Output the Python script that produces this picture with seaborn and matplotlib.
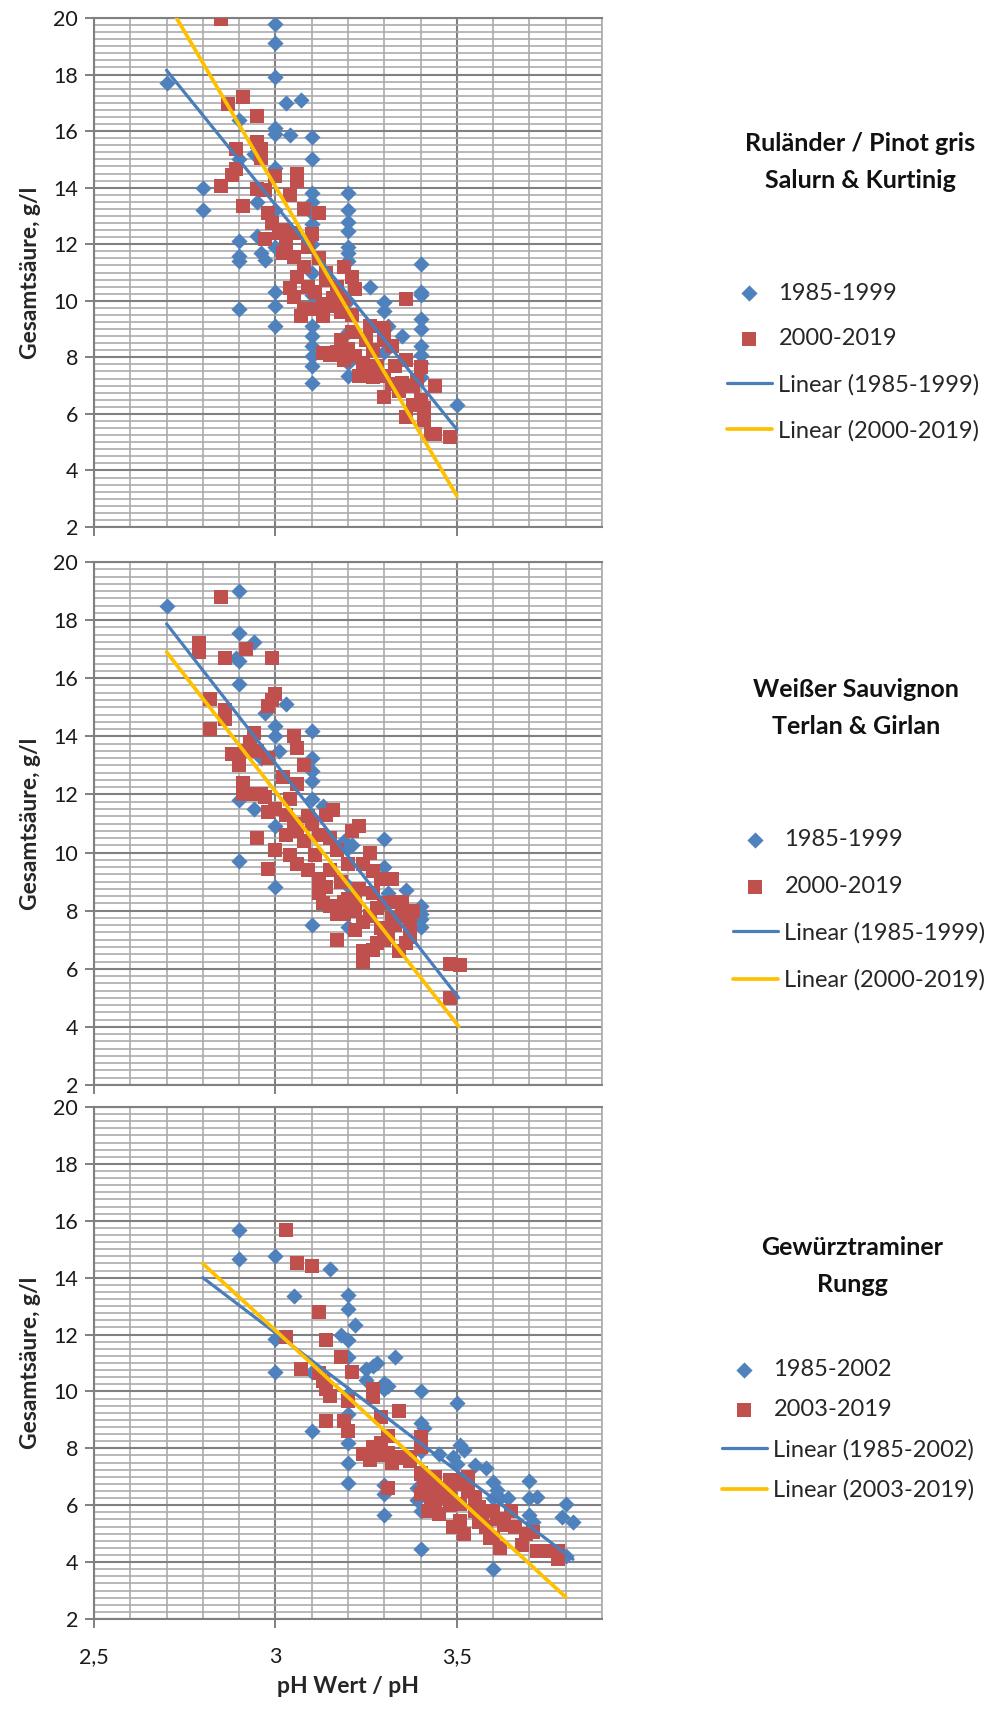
import numpy as np
import pandas as pd
import matplotlib
matplotlib.use("Agg")
import matplotlib.pyplot as plt
from matplotlib.ticker import MultipleLocator, FuncFormatter
import seaborn as sns

# ---------------- data ----------------
# Ruländer / Pinot gris, Salurn & Kurtinig
pg_old_ph = [2.70, 2.80, 2.80, 2.90, 2.90, 2.90, 2.90, 2.90, 2.90, 2.94, 2.95, 2.95, 2.96, 2.97,
             3.00, 3.00, 3.00, 3.00, 3.00, 3.00, 3.00, 3.00, 3.00, 3.00, 3.00, 3.03, 3.07, 3.04,
             3.10, 3.10, 3.10, 3.10, 3.10, 3.10, 3.10, 3.10, 3.10, 3.10, 3.10, 3.10, 3.10, 3.10, 3.10,
             3.20, 3.20, 3.20, 3.20, 3.20, 3.20, 3.20, 3.20, 3.20, 3.20, 3.20, 3.26, 3.30, 3.30, 3.31,
             3.30, 3.35, 3.40, 3.40, 3.40, 3.40, 3.40, 3.40, 3.40, 3.40, 3.40, 3.50]
pg_old_ta = [17.7, 14.0, 13.2, 16.4, 15.0, 12.1, 11.6, 11.4, 9.7, 15.2, 13.5, 12.3, 11.7, 11.45,
             19.8, 19.1, 17.9, 16.1, 15.9, 14.7, 10.3, 9.8, 9.1, 11.9, 13.2, 17.0, 17.1, 15.85,
             15.8, 15.0, 13.8, 13.5, 13.1, 12.7, 12.0, 11.0, 10.2, 9.1, 8.75, 8.4, 8.05, 7.7, 7.1,
             13.8, 13.2, 12.8, 12.45, 11.9, 11.7, 11.4, 10.0, 8.9, 7.8, 7.35, 10.5, 9.95, 9.65, 9.1,
             8.2, 8.75, 11.3, 10.3, 10.2, 9.35, 9.0, 8.4, 8.1, 7.8, 7.3, 6.3]
pg_new_ph = [2.85, 2.87, 2.91, 2.95, 2.95, 2.96, 2.96, 2.89, 2.89, 2.88, 2.85, 2.91, 3.00, 3.06, 3.06,
             2.95, 2.97, 3.04, 3.08, 3.12, 2.98, 2.99, 2.97, 3.01, 3.03, 3.05, 3.10, 3.03,
             3.02, 3.05, 3.08, 3.06, 3.04, 3.05, 3.08, 3.11, 3.07, 3.13, 3.16,
             3.14, 3.17, 3.19, 3.21, 3.22, 3.19, 3.21, 3.09, 3.12, 3.11, 3.14, 3.09, 3.16, 3.13, 3.18,
             3.15, 3.18, 3.19, 3.22, 3.23, 3.25, 3.26, 3.27, 3.28, 3.30, 3.30, 3.32, 3.30, 3.30, 3.33,
             3.35, 3.36, 3.36, 3.38, 3.40, 3.44, 3.40, 3.36, 3.41, 3.44, 3.48,
             3.20, 3.24, 3.13, 3.17, 3.21, 3.27, 3.32, 3.34, 3.38, 3.41, 3.39, 3.43]
pg_new_ta = [19.95, 16.95, 17.2, 16.55, 15.6, 15.35, 15.05, 15.35, 14.65, 14.45, 14.05, 13.35, 14.4, 14.5, 14.25,
             13.95, 13.9, 13.75, 13.25, 13.1, 13.1, 12.75, 12.2, 12.4, 12.05, 12.4, 12.35, 12.5,
             11.7, 11.55, 11.2, 10.85, 10.45, 10.15, 9.7, 9.7, 9.45, 9.45, 9.8,
             10.75, 10.5, 11.2, 10.85, 10.4, 10.05, 9.5, 11.9, 11.5, 10.3, 11.0, 10.5, 10.1, 9.9, 9.6,
             8.1, 8.6, 7.9, 8.05, 7.35, 8.6, 9.1, 8.25, 7.7, 9.05, 8.6, 8.4, 7.35, 6.6, 7.7,
             7.1, 7.9, 10.05, 7.0, 7.65, 7.0, 6.5, 5.9, 5.8, 5.3, 5.2,
             8.3, 7.8, 8.15, 8.2, 8.9, 7.3, 7.05, 6.8, 6.3, 6.2, 7.2, 5.3]

# Weißer Sauvignon, Terlan & Girlan
sb_old_ph = [2.70, 2.90, 2.90, 2.94, 2.90, 2.89, 2.90, 3.03, 2.97, 3.00, 3.00, 3.10, 3.01, 3.10, 3.10,
             3.10, 2.96, 2.90, 2.94, 2.90, 3.00, 3.10, 3.10, 3.13, 3.19, 3.20, 3.21, 3.30, 3.30,
             3.31, 3.36, 3.40, 3.40, 3.40, 3.40, 3.20, 3.00, 3.20]
sb_old_ta = [18.5, 19.0, 17.55, 17.25, 16.6, 16.7, 15.8, 15.1, 14.8, 14.35, 14.0, 14.2, 13.5, 13.25, 12.8,
             12.45, 13.25, 11.8, 11.5, 9.7, 8.8, 7.5, 11.85, 11.6, 10.4, 10.15, 10.25, 10.45, 9.5,
             8.6, 8.7, 8.15, 7.9, 7.7, 7.45, 7.45, 10.9, 8.85]
sb_new_ph = [2.85, 2.79, 2.79, 2.86, 2.92, 2.99, 2.82, 2.82, 2.86, 2.86, 2.99, 3.00, 2.98, 2.94, 2.93,
             2.88, 2.90, 2.92, 2.95, 3.05, 3.06, 3.08, 2.98, 2.91, 2.93, 2.91, 2.96, 3.02, 3.06,
             2.98, 3.00, 2.95, 2.98, 3.04, 3.05, 3.03, 3.06, 3.00, 3.04, 3.09, 3.10, 3.16, 3.06,
             3.09, 3.11, 3.15, 3.17, 3.21, 3.23, 3.26, 3.12, 3.13, 3.15, 3.15, 3.18, 3.20, 3.17,
             3.19, 3.17, 3.22, 3.23, 3.22, 3.24, 3.22, 3.24, 3.24, 3.27, 3.24, 3.27, 3.29, 3.27,
             3.30, 3.28, 3.29, 3.31, 3.32, 3.33, 3.33, 3.35, 3.34, 3.37, 3.37, 3.32, 3.48, 3.48, 3.51,
             3.12, 3.14, 3.20, 3.26, 3.30, 3.35, 3.38, 3.36, 3.28, 3.19, 2.97, 3.03, 3.08, 3.12, 3.14]
sb_new_ta = [18.8, 17.2, 16.9, 16.7, 17.0, 16.7, 15.3, 14.25, 14.9, 14.6, 15.25, 15.45, 15.05, 14.1, 13.8,
             13.4, 13.0, 13.5, 13.5, 14.0, 13.6, 13.0, 13.25, 12.4, 12.0, 12.0, 12.0, 12.6, 12.35,
             11.4, 11.5, 10.5, 9.45, 11.85, 11.0, 10.6, 10.75, 10.1, 9.9, 11.25, 11.0, 11.45, 9.6,
             9.4, 9.9, 10.5, 10.1, 10.75, 10.9, 10.0, 8.6, 8.25, 8.15, 9.4, 9.0, 9.6, 7.9,
             7.9, 7.0, 8.4, 8.75, 8.0, 7.6, 7.35, 6.25, 6.6, 6.65, 9.6, 9.35, 9.1, 8.6,
             8.25, 8.1, 7.4, 7.1, 7.75, 7.5, 8.3, 8.3, 6.6, 7.5, 7.1, 9.1, 5.0, 6.15, 6.12,
             9.1, 8.8, 8.4, 7.8, 7.0, 7.8, 8.0, 6.9, 6.9, 8.3, 11.9, 11.3, 10.4, 10.6, 11.3]

# Gewürztraminer, Rungg
gt_old_ph = [2.90, 2.90, 3.00, 3.00, 3.00, 3.05, 3.10, 3.10, 3.15, 3.20, 3.20, 3.22, 3.18, 3.20,
             3.20, 3.20, 3.20, 3.20, 3.20, 3.25, 3.27, 3.28, 3.25, 3.30, 3.30, 3.33, 3.30, 3.30,
             3.30, 3.40, 3.40, 3.41, 3.40, 3.39, 3.39, 3.40, 3.50, 3.45, 3.51, 3.52, 3.49, 3.50,
             3.55, 3.58, 3.60, 3.61, 3.60, 3.62, 3.64, 3.60, 3.70, 3.70, 3.72, 3.70, 3.71, 3.80,
             3.79, 3.82, 3.80, 3.31, 3.40, 3.20]
gt_old_ta = [15.67, 14.65, 14.76, 11.85, 10.7, 13.37, 10.7, 8.6, 14.3, 13.4, 12.9, 12.35, 12.0, 11.8,
             11.2, 9.2, 8.2, 7.5, 6.77, 10.8, 10.9, 11.0, 10.4, 10.3, 10.1, 11.2, 6.7, 6.4,
             5.65, 10.0, 8.9, 8.7, 4.45, 6.6, 6.2, 5.8, 9.6, 7.8, 8.1, 7.95, 7.7, 7.45,
             7.4, 7.3, 6.8, 6.55, 6.25, 6.25, 6.25, 3.75, 6.85, 6.25, 6.3, 5.65, 5.4, 6.05,
             5.6, 5.4, 4.2, 10.2, 7.9, 9.9]
gt_new_ph = [3.03, 3.06, 3.10, 3.12, 3.03, 3.14, 3.18, 3.21, 3.07, 3.12, 3.13, 3.14, 3.15, 3.20,
             3.27, 3.27, 3.34, 3.14, 3.19, 3.20, 3.29, 3.24, 3.27, 3.29, 3.31, 3.32, 3.35, 3.31,
             3.31, 3.37, 3.40, 3.40, 3.40, 3.41, 3.43, 3.46, 3.42, 3.44, 3.43, 3.48, 3.52, 3.53,
             3.48, 3.51, 3.49, 3.52, 3.55, 3.57, 3.58, 3.59, 3.34, 3.37, 3.40, 3.42, 3.44, 3.40,
             3.45, 3.48, 3.51, 3.53, 3.51, 3.56, 3.56, 3.60, 3.61, 3.60, 3.62, 3.65, 3.66, 3.68,
             3.71, 3.72, 3.75, 3.78, 3.78, 3.26, 3.29, 3.45, 3.55, 3.63, 3.69]
gt_new_ta = [15.68, 14.5, 14.4, 12.8, 11.9, 11.8, 11.2, 10.7, 10.8, 10.65, 10.35, 10.1, 9.85, 9.65,
             10.1, 9.8, 9.3, 8.95, 8.95, 8.6, 9.1, 7.8, 8.05, 7.75, 7.85, 7.5, 7.7, 8.45,
             6.6, 7.55, 8.4, 8.05, 7.15, 6.75, 6.6, 6.6, 5.8, 5.8, 6.2, 6.9, 6.9, 6.5,
             6.0, 6.05, 5.25, 5.0, 5.8, 5.5, 5.25, 4.85, 7.65, 7.7, 7.1, 6.75, 7.0, 6.4,
             5.7, 6.5, 6.75, 7.0, 5.45, 5.95, 5.4, 5.8, 5.5, 4.85, 4.5, 5.8, 5.25, 4.6,
             5.05, 4.4, 4.4, 4.4, 4.1, 7.6, 8.2, 6.3, 6.3, 5.3, 5.0]

# Excel linear trendlines: start/end pH and the value the line takes there
pg_fit_old = ([2.70, 3.50], [18.15, 5.45])
pg_fit_new = ([2.70, 3.50], [20.6, 3.1])
sb_fit_old = ([2.70, 3.505], [17.87, 5.0])
sb_fit_new = ([2.70, 3.505], [16.9, 4.02])
gt_fit_old = ([2.80, 3.82], [14.0, 4.1])
gt_fit_new = ([2.80, 3.80], [14.49, 2.77])

titles = ["Ruländer / Pinot gris\nSalurn & Kurtinig",
          "Weißer Sauvignon\nTerlan & Girlan",
          "Gewürztraminer\nRungg"]
periods = [("1985-1999", "2000-2019"), ("1985-1999", "2000-2019"), ("1985-2002", "2003-2019")]

# ---------------- style ----------------
sns.set_style("white")
plt.rcParams["font.family"] = ["Lato", "DejaVu Sans"]

blue = "#4F81BD"
red = "#C0504D"
blue_line = "#4A7EBB"
yellow = "#FFC000"
major_grey = "#808080"
minor_grey = "#ABABAB"

W, H = 991, 1709
fig = plt.figure(figsize=(W / 100, H / 100), dpi=100)

# axes boxes in pixels: (top, bottom)
boxes = [(18, 527), (562, 1085), (1107, 1619)]
left_px, right_px = 94, 602
title_pos = [(860, 162), (856, 708), (852, 1266)]
legend_pos = [(727, 362), (733, 910), (722, 1430)]
legend_gap = [1.04, 1.08, 0.8]

panels = [
    (pg_old_ph, pg_old_ta, pg_new_ph, pg_new_ta, pg_fit_old, pg_fit_new),
    (sb_old_ph, sb_old_ta, sb_new_ph, sb_new_ta, sb_fit_old, sb_fit_new),
    (gt_old_ph, gt_old_ta, gt_new_ph, gt_new_ta, gt_fit_old, gt_fit_new),
]

for i, (ph_a, ta_a, ph_b, ta_b, fit_a, fit_b) in enumerate(panels):
    top, bottom = boxes[i]
    ax = fig.add_axes([left_px / W, 1 - bottom / H, (right_px - left_px) / W, (bottom - top) / H])
    label_a, label_b = periods[i]

    sns.scatterplot(x=ph_a, y=ta_a, marker="D", color=blue, s=68, linewidth=0,
                    label=label_a, ax=ax, zorder=3)
    sns.scatterplot(x=ph_b, y=ta_b, marker="s", color=red, s=108, linewidth=0,
                    label=label_b, ax=ax, zorder=4)
    sns.lineplot(x=fit_a[0], y=fit_a[1], color=blue_line, linewidth=2.3, estimator=None,
                 label="Linear (" + label_a + ")", ax=ax, zorder=5)
    sns.lineplot(x=fit_b[0], y=fit_b[1], color=yellow, linewidth=2.7, estimator=None,
                 label="Linear (" + label_b + ")", ax=ax, zorder=6)

    ax.set_xlim(2.5, 3.9)
    ax.set_ylim(2, 20)
    ax.xaxis.set_major_locator(MultipleLocator(0.5))
    ax.xaxis.set_minor_locator(MultipleLocator(0.1))
    ax.yaxis.set_major_locator(MultipleLocator(2))
    ax.yaxis.set_minor_locator(MultipleLocator(0.25))
    ax.grid(which="major", color=major_grey, linewidth=1.5, zorder=1)
    ax.grid(which="minor", color=minor_grey, linewidth=1.2, zorder=0)
    ax.set_axisbelow(True)

    for side in ["left", "bottom", "top"]:
        ax.spines[side].set_color(major_grey)
        ax.spines[side].set_linewidth(1.5)
    ax.spines["right"].set_color(minor_grey)
    ax.spines["right"].set_linewidth(1.2)

    ax.tick_params(which="major", direction="out", length=6.5, width=1.4, color=major_grey,
                   labelsize=15.5, labelcolor="#1a1a1a", left=True, bottom=True)
    ax.tick_params(axis="y", which="major", pad=5)
    ax.tick_params(axis="x", which="major", pad=14)
    ax.tick_params(which="minor", length=0)
    ax.yaxis.set_major_formatter(FuncFormatter(lambda v, p: f"{v:.0f}"))
    if i < 2:
        ax.set_xticklabels([])
    else:
        ax.xaxis.set_major_formatter(FuncFormatter(lambda v, p: f"{v:g}".replace(".", ",")))
        ax.set_xlabel("pH Wert / pH", fontsize=16.5, fontweight="bold", labelpad=6)
    ax.set_ylabel("Gesamtsäure, g/l", fontsize=16.5, fontweight="bold", labelpad=9)

    handles, labels = ax.get_legend_handles_labels()
    lx, ly = legend_pos[i]
    ax.legend(handles, labels, loc="center left", bbox_to_anchor=(lx / W, 1 - ly / H),
              bbox_transform=fig.transFigure, frameon=False, fontsize=17,
              handlelength=1.9, handletextpad=0.28, labelspacing=legend_gap[i],
              borderpad=0, borderaxespad=0, scatterpoints=1)

    tx, ty = title_pos[i]
    fig.text(tx / W, 1 - ty / H, titles[i], ha="center", va="center", fontsize=18,
             fontweight="bold", linespacing=1.72, color="#111111")

fig.savefig("out.png", dpi=100, facecolor="white")
